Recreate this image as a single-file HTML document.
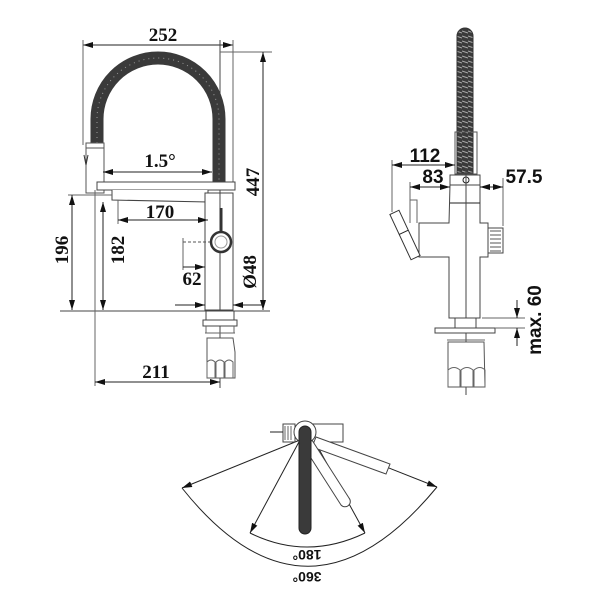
<!DOCTYPE html>
<html><head><style>
html,body{margin:0;padding:0;background:#fff;}
svg{display:block;}
.t{font-family:"Liberation Serif",serif;font-weight:bold;font-size:19px;fill:#111;}
.s{font-family:"Liberation Sans",sans-serif;font-weight:bold;font-size:19px;fill:#111;}
</style></head><body>
<svg width="600" height="600" viewBox="0 0 600 600" xmlns="http://www.w3.org/2000/svg">
<defs>
<marker id="a" viewBox="0 0 10 6" refX="10" refY="3" markerWidth="10" markerHeight="6" orient="auto-start-reverse" markerUnits="userSpaceOnUse"><path d="M0,0 L10,3 L0,6 z" fill="#111"/></marker>
<pattern id="rib" width="6" height="5" patternUnits="userSpaceOnUse"><rect width="6" height="5" fill="#3a3a3a"/><line x1="0" y1="1" x2="6" y2="3" stroke="#aaa" stroke-width="1"/></pattern>
</defs>
<g fill="none" stroke="#222" stroke-width="1">
<line x1="83" y1="45" x2="233" y2="45" marker-start="url(#a)" marker-end="url(#a)"/>
<line x1="83" y1="40" x2="83" y2="145" stroke="#666"/>
<line x1="233" y1="40" x2="233" y2="185" stroke="#666"/>
<line x1="220" y1="40" x2="220" y2="388" stroke="#444"/>
<line x1="220" y1="52" x2="272" y2="52" stroke="#666"/>
<line x1="263" y1="52" x2="263" y2="310" marker-start="url(#a)" marker-end="url(#a)"/>
<path d="M97,143 L97,119 A61,61 0 0 1 219,119 L219,183" stroke="#3a3a3a" stroke-width="13"/>
<path d="M97,143 L97,119 A61,61 0 0 1 219,119 L219,183" stroke="#999" stroke-width="1" stroke-dasharray="1 4"/>
<rect x="86" y="143" width="18" height="50" fill="#fff" stroke="#555"/>
<line x1="86" y1="148" x2="104" y2="148" stroke="#555"/>
<path d="M84,155 l2,10 l2,-10" stroke="#333"/>
<rect x="97" y="182" width="138" height="8" fill="#fff" stroke="#444"/>
<path d="M112,190 L112,200 L208,202 L208,190" fill="#fff" stroke="#444"/>
<line x1="103" y1="172" x2="212" y2="172" marker-start="url(#a)" marker-end="url(#a)"/>
<rect x="205" y="193" width="28" height="117" fill="#fff" stroke="#444"/>
<line x1="220" y1="193" x2="220" y2="310" stroke="#444"/>
<line x1="221" y1="208" x2="221" y2="232" stroke="#333" stroke-width="3"/>
<circle cx="221" cy="242" r="10" stroke="#333" stroke-width="2.5" fill="#fff"/>
<circle cx="221" cy="242" r="6" stroke="#999"/>
<line x1="118" y1="200" x2="118" y2="224" stroke="#666"/>
<line x1="118" y1="220" x2="208" y2="220" marker-start="url(#a)" marker-end="url(#a)"/>
<line x1="68" y1="195" x2="112" y2="195" stroke="#666"/>
<line x1="72" y1="195" x2="72" y2="310" marker-start="url(#a)" marker-end="url(#a)"/>
<line x1="103" y1="202" x2="103" y2="310" marker-start="url(#a)" marker-end="url(#a)"/>
<line x1="183" y1="238" x2="183" y2="270" stroke="#666"/>
<line x1="183" y1="242" x2="210" y2="242" stroke="#555" stroke-dasharray="3 2"/>
<line x1="183" y1="267" x2="205" y2="267" marker-end="url(#a)"/>
<line x1="175" y1="305" x2="205" y2="305" marker-end="url(#a)"/>
<line x1="263" y1="305" x2="233" y2="305" marker-end="url(#a)"/>
<line x1="60" y1="311" x2="270" y2="311" stroke="#444"/>
<rect x="206" y="311" width="28" height="9" fill="#fff" stroke="#444"/>
<rect x="203" y="320" width="34" height="6" fill="#fff" stroke="#444"/>
<line x1="206" y1="326" x2="206" y2="333" stroke="#666"/><line x1="234" y1="326" x2="234" y2="333" stroke="#666"/>
<line x1="205" y1="333" x2="235" y2="333" stroke="#666"/>
<path d="M207,338 L233,338 L235,352 L235,378 L207,378 L207,352 Z" fill="#fff" stroke="#555"/>
<path d="M207,378 L207,362 Q211,358 215,362 L215,378 M216,378 L216,362 Q220,358 224,362 L224,378 M225,378 L225,362 Q229,358 233,362 L233,378" stroke="#666"/>
<line x1="95" y1="190" x2="95" y2="386" stroke="#666"/>
<line x1="95" y1="382" x2="220" y2="382" marker-start="url(#a)" marker-end="url(#a)"/>

<path d="M457,173 L457,36 A8,8 0 0 1 473,36 L473,173 Z" fill="url(#rib)" stroke="#333"/>
<rect x="455" y="132" width="22" height="42" fill="none" stroke="#555"/>
<rect x="450" y="175" width="30" height="10" fill="#fff" stroke="#444"/>
<circle cx="466" cy="180" r="3"/>
<path d="M450,185 L480,185 L480,223 L488,223 L488,257 L480,257 L480,318 L449,318 L449,257 L419,257 L419,223 L449,223 Z" fill="#fff" stroke="#444"/>
<line x1="450" y1="203" x2="480" y2="203"/>
<rect x="488" y="228" width="15" height="25" fill="#fff" stroke="#444"/>
<path d="M490,231 h11 M490,235 h11 M490,239 h11 M490,243 h11 M490,247 h11 M490,251 h11" stroke="#555"/>
<path d="M410,223 L410,200 L417,200 L417,223" stroke="#666"/>
<g transform="rotate(-25 405 235)"><rect x="400" y="210" width="10" height="50" fill="#fff" stroke="#333"/><line x1="400" y1="232" x2="410" y2="232"/></g>
<line x1="466" y1="168" x2="466" y2="395" stroke="#444"/>
<line x1="392" y1="160" x2="392" y2="212" stroke="#666"/>
<line x1="392" y1="165" x2="455" y2="165" marker-start="url(#a)" marker-end="url(#a)"/>
<line x1="410" y1="182" x2="410" y2="200" stroke="#666"/>
<line x1="410" y1="187" x2="450" y2="187" marker-start="url(#a)" marker-end="url(#a)"/>
<line x1="503" y1="178" x2="503" y2="226" stroke="#666"/>
<line x1="480" y1="187" x2="503" y2="187" marker-start="url(#a)" marker-end="url(#a)"/>
<rect x="455" y="318" width="21" height="10" fill="#fff" stroke="#444"/>
<rect x="435" y="328" width="60" height="5" fill="#fff" stroke="#444"/>
<line x1="447" y1="340" x2="485" y2="340" stroke="#666"/>
<path d="M448,342 L484,342 L485,387 L448,387 Z" fill="#fff" stroke="#555"/>
<path d="M448,387 L448,370 Q454,365 460,370 L460,387 M461,387 L461,370 Q467,365 473,370 L473,387 M474,387 L474,370 Q480,365 485,370 L485,387" stroke="#666"/>
<line x1="482" y1="318" x2="525" y2="318" stroke="#666"/>
<line x1="495" y1="328" x2="525" y2="328" stroke="#666"/>
<line x1="517" y1="300" x2="517" y2="318" marker-end="url(#a)"/>
<line x1="517" y1="346" x2="517" y2="328" marker-end="url(#a)"/>

<line x1="182" y1="488" x2="300" y2="440" marker-start="url(#a)"/>
<line x1="437" y1="487" x2="318" y2="440" marker-start="url(#a)"/>
<line x1="250" y1="533" x2="300" y2="440" marker-start="url(#a)"/>
<line x1="365" y1="533" x2="314" y2="440" marker-start="url(#a)"/>
<path d="M250,533 Q307,561 365,533"/>
<path d="M182,488 Q307,645 437,487"/>
<rect x="305" y="424" width="38" height="18" fill="#fff" stroke="#444"/>
<rect x="283" y="424" width="12" height="18" fill="#fff" stroke="#444"/>
<path d="M285,426 v14 M288,426 v14 M291,426 v14" stroke="#666"/>
<line x1="270" y1="432" x2="283" y2="432"/>
<path d="M316,437 L390,464 L386,474 L312,447 Z" fill="#fff" stroke="#444"/>
<path d="M310,437 L349,498 A5,5 0 0 1 341,505 L302,444 Z" fill="#fff" stroke="#444"/>
<circle cx="305" cy="432" r="11" fill="#fff" stroke="#444"/>
<path d="M299,432 A6,6 0 0 1 311,432 L311,528 A6,6 0 0 1 299,528 Z" fill="#3a3a3a" stroke="#222"/>
</g>
<text class="t" x="163" y="41" text-anchor="middle">252</text>
<text class="t" x="160" y="167" text-anchor="middle">1.5°</text>
<text class="t" x="160" y="218" text-anchor="middle">170</text>
<text class="t" x="192" y="285" text-anchor="middle">62</text>
<text class="t" x="156" y="378" text-anchor="middle">211</text>
<text class="t" transform="translate(259,182) rotate(-90)" text-anchor="middle">447</text>
<text class="t" transform="translate(68,250) rotate(-90)" text-anchor="middle">196</text>
<text class="t" transform="translate(124,250) rotate(-90)" text-anchor="middle">182</text>
<text class="t" transform="translate(256,272) rotate(-90)" text-anchor="middle">Ø48</text>
<text class="s" x="425" y="162" text-anchor="middle">112</text>
<text class="s" x="433" y="183" text-anchor="middle">83</text>
<text class="s" x="524" y="183" text-anchor="middle">57.5</text>
<text class="s" transform="translate(541,320) rotate(-90)" text-anchor="middle">max. 60</text>
<text class="s" transform="translate(307,550) rotate(180)" text-anchor="middle" style="font-size:14px">180°</text>
<text class="s" transform="translate(307,572) rotate(180)" text-anchor="middle" style="font-size:14px">360°</text>
</svg>
</body></html>
